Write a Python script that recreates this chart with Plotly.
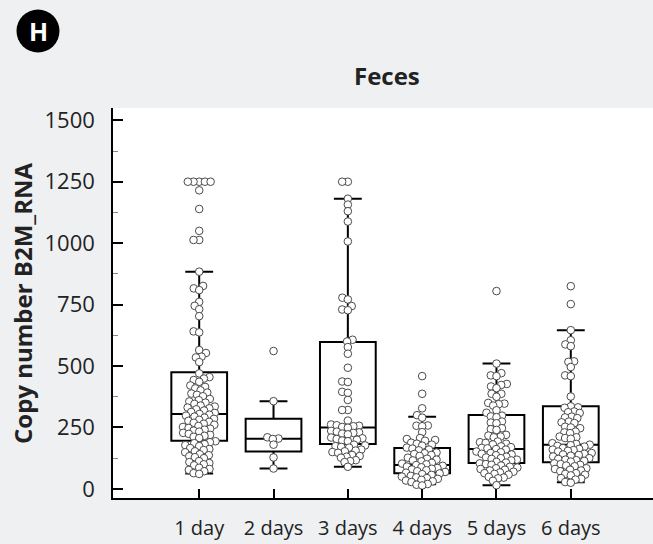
import math
import plotly.graph_objects as go

categories = ["1 day", "2 days", "3 days", "4 days", "5 days", "6 days"]

day1 = [1250, 1250, 1250, 1250, 1250, 1215, 1139, 1050, 1013, 1013, 884,
        826, 816, 809, 761, 745, 731, 703, 641, 637, 565, 553, 538, 535, 516, 470,
        455, 449, 443, 436, 421, 415, 409, 401, 392, 388, 383, 377,
        366, 361, 356, 351, 346, 339, 335, 331, 328, 324, 319,
        313, 309, 305, 302, 298, 294, 290, 285, 281, 277, 273, 269, 265, 261,
        256, 252, 248, 245, 241, 237, 233, 228, 224, 220, 216, 212, 207,
        194, 190, 186, 182, 178, 174, 166, 162, 158, 153, 149,
        141, 137, 133, 129, 125, 113, 109, 105, 100, 96, 86, 81, 77, 72, 64, 61]
day2 = [561, 357, 210, 205, 203, 180, 128, 83]
day3 = [1250, 1250, 1181, 1157, 1130, 1088, 1007, 778, 771, 744, 730, 727, 607, 600,
        577, 550, 493, 437, 435, 395, 391, 362, 321, 321, 278,
        262, 259, 257, 255, 252, 249, 236, 233, 230, 228, 225, 222,
        209, 206, 203, 200, 197, 194, 180, 177, 174, 171, 168,
        160, 156, 153, 150, 147, 138, 134, 131, 127, 117, 113, 109, 90]
day4 = [459, 387, 328, 300, 290, 258, 257, 255, 231,
        207, 203, 199, 196, 188, 184, 180, 176,
        168, 164, 160, 157, 148, 145, 142, 138, 134,
        127, 123, 119, 116, 112, 106, 103, 100, 97, 94, 91,
        88, 85, 82, 79, 76, 72, 69, 66, 63, 60, 57,
        53, 50, 47, 44, 41, 37, 34, 31, 28, 20, 17, 14]
day5 = [805, 510, 471, 462, 459, 427, 423, 417, 410, 387, 387, 375, 350, 347, 345, 339, 320, 310,
        298, 295, 292, 274, 270, 267, 247, 243, 240, 220, 217, 213, 210,
        193, 190, 187, 184, 181, 173, 170, 167, 165, 162, 160,
        152, 149, 146, 143, 140, 137, 131, 128, 125, 122, 119, 116,
        110, 107, 104, 101, 98, 95, 90, 87, 84, 81, 78, 75,
        70, 67, 64, 61, 58, 49, 46, 43, 33, 15]
day6 = [825, 752, 646, 605, 588, 581, 519, 517, 496, 462, 459, 376, 336, 332, 330,
        315, 312, 309, 294, 291, 288, 274, 271, 268, 253, 250, 247, 233, 230, 227,
        213, 210, 207, 204, 186, 183, 180, 178, 175, 172, 166, 163, 160, 158, 155, 152,
        146, 143, 140, 138, 135, 132, 125, 122, 119, 117, 114, 111,
        104, 101, 98, 95, 92, 84, 81, 78, 75, 72, 64, 61, 58, 55, 44, 41, 38, 28, 25]
series = [day1, day2, day3, day4, day5, day6]

box_q1 = [196, 152, 183, 64, 105, 108]
box_median = [305, 204, 250, 97, 162, 180]
box_q3 = [475, 285, 598, 166, 301, 336]
box_lower = [63, 83, 90, 19, 15, 27]
box_upper = [884, 357, 1181, 294, 510, 646]

# layout geometry
W, H = 653, 544
ML, MR, MT, MB = 113, 0, 108, 46
XR = [-1.16, 6.106]
YR = [-37.0, 1550.0]
plot_w = W - ML - MR
plot_h = H - MT - MB
px_x = plot_w / (XR[1] - XR[0])
px_y = plot_h / (YR[1] - YR[0])
D = 5.7  # collision distance in px (markers overlap a little, as in the reference)


def swarm(vals):
    ys = [v * px_y for v in vals]
    order = sorted(range(len(vals)), key=lambda i: ys[i])
    placed = []
    xs = [0.0] * len(vals)
    for i in order:
        y = ys[i]
        near = [(px, py) for px, py in placed if abs(py - y) < D]
        cands = [0.0]
        for px, py in near:
            dx = math.sqrt(max(D * D - (py - y) ** 2, 0))
            cands += [px + dx, px - dx]
        cands.sort(key=lambda c: (abs(c), c))
        for c in cands:
            if all((c - px) ** 2 + (y - py) ** 2 >= D * D - 1e-6 for px, py in near):
                xs[i] = c
                break
        placed.append((xs[i], y))
    return [x / px_x for x in xs]


fig = go.Figure()
fig.add_trace(go.Box(
    x=list(range(len(categories))), q1=box_q1, median=box_median, q3=box_q3,
    lowerfence=box_lower, upperfence=box_upper,
    width=0.75, whiskerwidth=0.5, boxpoints=False,
    line=dict(color="black", width=2), fillcolor="rgba(0,0,0,0)",
    showlegend=False, hoverinfo="skip"))

for i, vals in enumerate(series):
    offs = swarm(vals)
    fig.add_trace(go.Scatter(
        x=[i + o for o in offs], y=vals, mode="markers",
        marker=dict(size=7.6, color="white", line=dict(color="#4a4a4a", width=1)),
        showlegend=False))

FONT = "Open Sans, Roboto, sans-serif"
cx = (38 - ML) / plot_w
cy = (H - MB - 31) / plot_h

fig.update_layout(
    width=W, height=H,
    margin=dict(l=ML, r=MR, t=MT, b=MB),
    paper_bgcolor="#eff0f2", plot_bgcolor="white",
    font=dict(family=FONT, color="#222"),
    xaxis=dict(range=XR, tickvals=list(range(len(categories))), ticktext=categories,
               ticks="inside", ticklen=9, tickwidth=1.5, tickcolor="black",
               showline=True, linecolor="black", linewidth=1.5,
               showgrid=False, zeroline=False, ticklabelstandoff=11,
               tickfont=dict(size=20, family=FONT, color="#222")),
    yaxis=dict(range=YR, tickvals=[0, 250, 500, 750, 1000, 1250, 1500],
               ticks="inside", ticklen=10, tickwidth=1.5, tickcolor="black",
               minor=dict(dtick=125, ticks="inside", ticklen=5, tickcolor="#888", tickwidth=1),
               showline=True, linecolor="black", linewidth=1.5,
               showgrid=False, zeroline=False, ticklabelstandoff=12,
               tickfont=dict(size=22, family=FONT, color="#222")),
    shapes=[dict(type="circle", xref="paper", yref="paper",
                 xsizemode="pixel", ysizemode="pixel",
                 xanchor=cx, yanchor=cy,
                 x0=-21.5, x1=21.5, y0=-21.5, y1=21.5,
                 fillcolor="black", line=dict(width=0))],
    annotations=[
        dict(text="<b>H</b>", xref="paper", yref="paper", x=cx, y=cy,
             xanchor="center", yanchor="middle",
             showarrow=False, font=dict(size=25, color="white", family=FONT)),
        dict(text="<b>Feces</b>", xref="paper", yref="paper",
             x=(387 - ML) / plot_w, y=(H - MB - 75) / plot_h,
             xanchor="center", yanchor="middle",
             showarrow=False, font=dict(size=24, color="#222", family=FONT)),
        dict(text="<b>Copy number B2M_RNA</b>", xref="paper", yref="paper",
             x=(22 - ML) / plot_w, y=0.5, textangle=-90,
             xanchor="center", yanchor="middle",
             showarrow=False, font=dict(size=24, color="#222", family=FONT)),
    ],
)

fig.write_html("out.html", config={"displayModeBar": False},
               post_script="document.body.style.margin='0';document.body.style.padding='0';")
